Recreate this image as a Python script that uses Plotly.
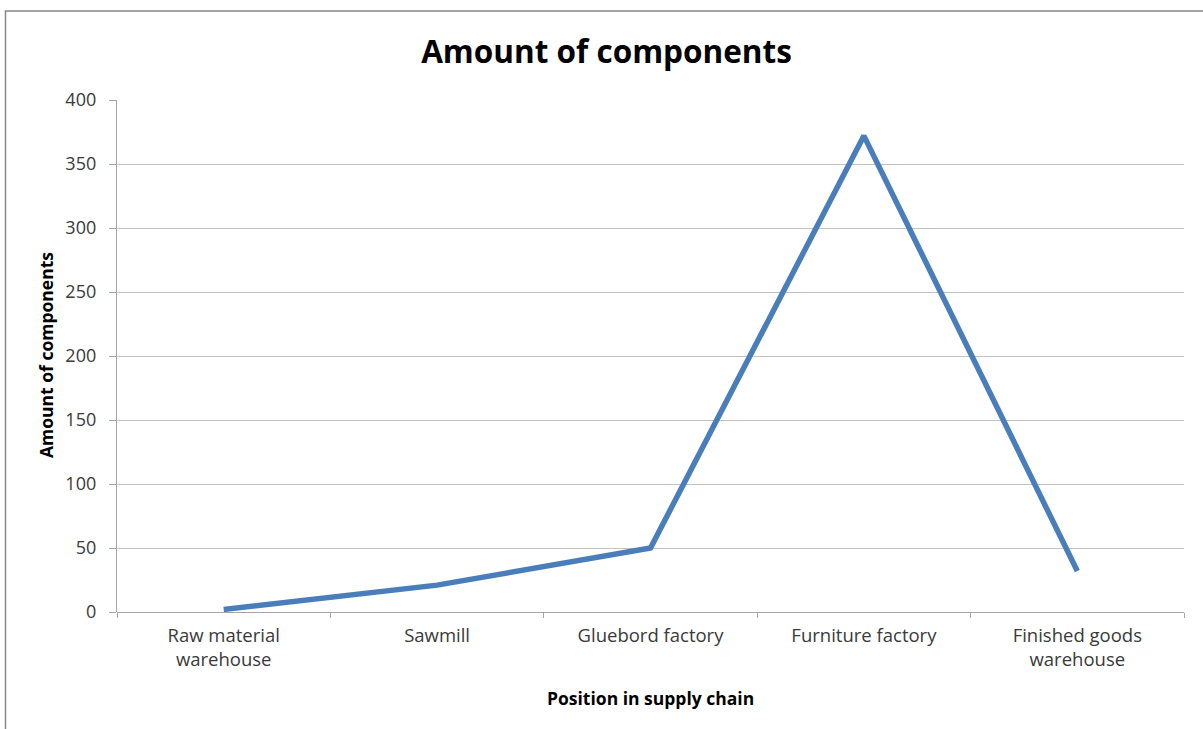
import plotly.graph_objects as go

# Supply-chain stages and component counts
stages = [
    "Raw material<br>warehouse",
    "Sawmill",
    "Gluebord factory",
    "Furniture factory",
    "Finished goods<br>warehouse",
]
components = [2, 21, 50, 372, 32]
y_ticks = [0, 50, 100, 150, 200, 250, 300, 350, 400]

W, H = 1203, 729
L, R, T, B = 117, 19, 100, 117
plot_w = W - L - R
plot_h = H - T - B


def px_x(px):
    return (px - L) / plot_w


def px_y(py):
    return (H - B - py) / plot_h


FONT = "Open Sans"
GRID = "#c3c3c3"
AXIS = "#a6a6a6"
TEXT = "#3a3a3a"

fig = go.Figure()
fig.add_trace(
    go.Scatter(
        x=stages,
        y=components,
        mode="lines",
        line=dict(color="#4a7ebb", width=5.5),
        hoverinfo="x+y",
    )
)

fig.update_layout(
    width=W,
    height=H,
    margin=dict(l=L, r=R, t=T, b=B, pad=0),
    paper_bgcolor="white",
    plot_bgcolor="white",
    showlegend=False,
    font=dict(family=FONT, color=TEXT, size=18),
    title=dict(
        text="<b>Amount of components</b>",
        font=dict(family=FONT, size=31.5, color="black"),
        xref="container",
        yref="container",
        x=606.5 / W,
        y=1 - 52 / H,
        xanchor="center",
        yanchor="middle",
    ),
    xaxis=dict(
        type="category",
        range=[-0.5, len(stages) - 0.5],
        tickson="boundaries",
        ticks="outside",
        ticklen=5,
        tickcolor=AXIS,
        showgrid=False,
        showline=False,
        zeroline=False,
        tickfont=dict(family=FONT, size=18.5, color=TEXT),
        ticklabelstandoff=10,
        fixedrange=True,
    ),
    yaxis=dict(
        range=[0, 400],
        tickvals=y_ticks,
        ticks="outside",
        ticklen=7,
        tickcolor=AXIS,
        showgrid=True,
        gridcolor=GRID,
        gridwidth=1.3,
        showline=True,
        linecolor=AXIS,
        linewidth=1.3,
        zeroline=True,
        zerolinecolor=AXIS,
        zerolinewidth=1.3,
        tickfont=dict(family=FONT, size=18, color=TEXT),
        ticklabelstandoff=9,
        fixedrange=True,
    ),
    annotations=[
        dict(
            text="<b>Position in supply chain</b>",
            xref="paper",
            yref="paper",
            x=0.5,
            y=px_y(698),
            xanchor="center",
            yanchor="middle",
            showarrow=False,
            font=dict(family=FONT, size=17.5, color="black"),
        ),
        dict(
            text="<b>Amount of components</b>",
            xref="paper",
            yref="paper",
            x=px_x(46),
            y=px_y(355),
            xanchor="center",
            yanchor="middle",
            textangle=-90,
            showarrow=False,
            font=dict(family=FONT, size=17.5, color="black"),
        ),
    ],
    shapes=[
        dict(
            type="rect",
            xref="paper",
            yref="paper",
            x0=px_x(5.5),
            y0=px_y(740),
            x1=px_x(1215),
            y1=px_y(11),
            line=dict(color="#868686", width=1.5),
            fillcolor="rgba(0,0,0,0)",
            layer="below",
        )
    ],
)

fig.write_html("out.html")
